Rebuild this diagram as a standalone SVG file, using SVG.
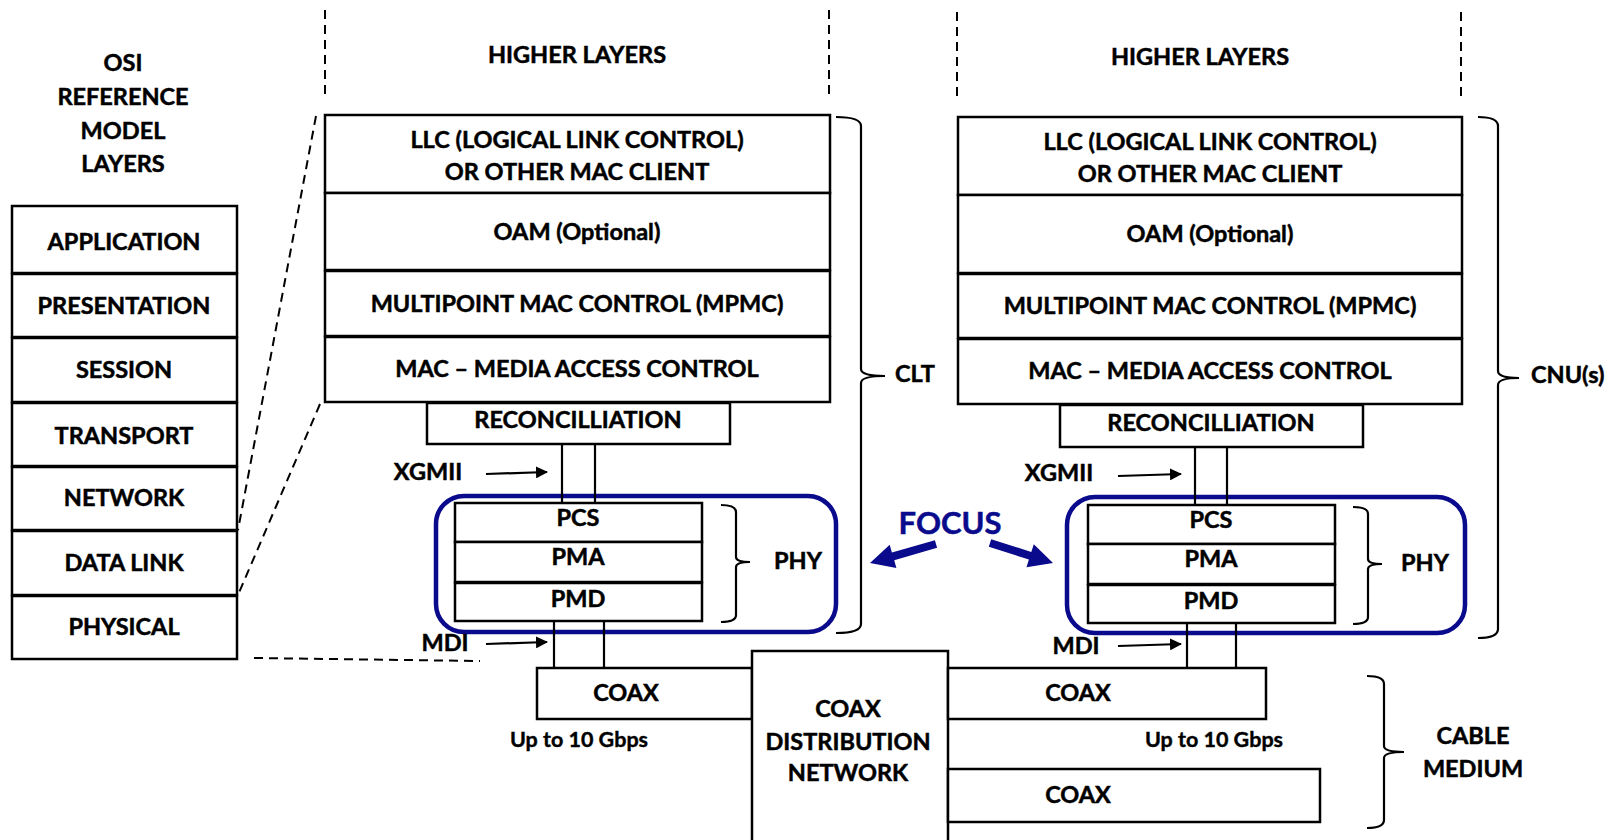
<svg xmlns="http://www.w3.org/2000/svg" width="1620" height="840" viewBox="0 0 1620 840">
  <defs>
    <style>
      .bx { fill: #ffffff; stroke: #000000; stroke-width: 2.5; }
      .ln { fill: none; stroke: #000000; stroke-width: 2.2; }
      .dash { fill: none; stroke: #000000; stroke-width: 2; stroke-dasharray: 9 6; }
      .brace { fill: none; stroke: #000000; stroke-width: 2.2; }
      .focus { fill: none; stroke: #0a0a8c; stroke-width: 4.5; }
      .t { font-family: "Lato", "Open Sans", "Liberation Sans", sans-serif; font-weight: bold; font-size: 23.5px; fill: #000000; stroke: #000000; stroke-width: 0.5; text-anchor: middle; }
      .sm { font-size: 21.5px; stroke-width: 0.4; }
      .blue { fill: #0a0a8c; stroke: #0a0a8c; font-size: 31px; }
      .lbl { text-anchor: start; }
    </style>
    <marker id="ah" viewBox="0 0 12 12" refX="11" refY="6" markerWidth="12" markerHeight="12" markerUnits="userSpaceOnUse" orient="auto">
      <path d="M0,0 L12,6 L0,12 Z" fill="#000000"/>
    </marker>
  </defs>

  <!-- OSI reference model column -->
  <g id="osi-title">
    <text class="t" x="123" y="71">OSI</text>
    <text class="t" x="123" y="105">REFERENCE</text>
    <text class="t" x="123" y="139">MODEL</text>
    <text class="t" x="123" y="172">LAYERS</text>
  </g>
  <g id="osi-application"><rect class="bx" x="12" y="206" width="225" height="67"/><text class="t" x="124" y="250">APPLICATION</text></g>
  <g id="osi-presentation"><rect class="bx" x="12" y="274" width="225" height="63"/><text class="t" x="124" y="314">PRESENTATION</text></g>
  <g id="osi-session"><rect class="bx" x="12" y="338" width="225" height="64"/><text class="t" x="124" y="378">SESSION</text></g>
  <g id="osi-transport"><rect class="bx" x="12" y="403" width="225" height="63"/><text class="t" x="124" y="444">TRANSPORT</text></g>
  <g id="osi-network"><rect class="bx" x="12" y="467" width="225" height="63"/><text class="t" x="124" y="506">NETWORK</text></g>
  <g id="osi-datalink"><rect class="bx" x="12" y="531" width="225" height="64"/><text class="t" x="124" y="571">DATA LINK</text></g>
  <g id="osi-physical"><rect class="bx" x="12" y="596" width="225" height="63"/><text class="t" x="124" y="635">PHYSICAL</text></g>

  <!-- CLT stack -->
  <g id="clt-higher">
    <line class="dash" x1="325" y1="10" x2="325" y2="96"/>
    <line class="dash" x1="829" y1="10" x2="829" y2="96"/>
    <text class="t" x="577" y="63">HIGHER LAYERS</text>
  </g>
  <g id="clt-llc"><rect class="bx" x="325" y="115" width="505" height="78"/><text class="t" x="577" y="148">LLC (LOGICAL LINK CONTROL)</text><text class="t" x="577" y="180">OR OTHER MAC CLIENT</text></g>
  <g id="clt-oam"><rect class="bx" x="325" y="193" width="505" height="77"/><text class="t" x="577" y="240">OAM (Optional)</text></g>
  <g id="clt-mpmc"><rect class="bx" x="325" y="271" width="505" height="65"/><text class="t" x="577" y="312">MULTIPOINT MAC CONTROL (MPMC)</text></g>
  <g id="clt-mac"><rect class="bx" x="325" y="337" width="505" height="65"/><text class="t" x="577" y="377">MAC – MEDIA ACCESS CONTROL</text></g>
  <g id="clt-recon"><rect class="bx" x="427" y="403" width="303" height="41"/><text class="t" x="578" y="428">RECONCILLIATION</text></g>
  <g id="clt-phy">
    <rect class="focus" x="436" y="496" width="400" height="136" rx="28" ry="28"/>
    <rect class="bx" x="455" y="503" width="247" height="39"/><text class="t" x="578" y="526">PCS</text>
    <rect class="bx" x="455" y="542" width="247" height="40"/><text class="t" x="578" y="565">PMA</text>
    <rect class="bx" x="455" y="583" width="247" height="38"/><text class="t" x="578" y="607">PMD</text>
    <path class="brace" d="M721,505 Q736,505 736,512 V557 Q736,562 750,562 Q736,562 736,567 V615 Q736,622 721,622"/>
    <text class="t" x="798" y="569">PHY</text>
  </g>
  <g id="clt-label">
    <path class="brace" d="M836,117 Q861,117 861,126 V369 Q861,376 885,376 Q861,376 861,383 V624 Q861,633 836,633"/>
    <text class="t lbl" x="895" y="382">CLT</text>
  </g>

  <!-- CNU stack -->
  <g id="cnu-higher">
    <line class="dash" x1="957" y1="12" x2="957" y2="98"/>
    <line class="dash" x1="1461" y1="12" x2="1461" y2="98"/>
    <text class="t" x="1200" y="65">HIGHER LAYERS</text>
  </g>
  <g id="cnu-llc"><rect class="bx" x="958" y="117" width="504" height="78"/><text class="t" x="1210" y="150">LLC (LOGICAL LINK CONTROL)</text><text class="t" x="1210" y="182">OR OTHER MAC CLIENT</text></g>
  <g id="cnu-oam"><rect class="bx" x="958" y="195" width="504" height="78"/><text class="t" x="1210" y="242">OAM (Optional)</text></g>
  <g id="cnu-mpmc"><rect class="bx" x="958" y="274" width="504" height="64"/><text class="t" x="1210" y="314">MULTIPOINT MAC CONTROL (MPMC)</text></g>
  <g id="cnu-mac"><rect class="bx" x="958" y="339" width="504" height="65"/><text class="t" x="1210" y="379">MAC – MEDIA ACCESS CONTROL</text></g>
  <g id="cnu-recon"><rect class="bx" x="1060" y="405" width="303" height="42"/><text class="t" x="1211" y="431">RECONCILLIATION</text></g>
  <g id="cnu-phy">
    <rect class="focus" x="1067" y="497" width="398" height="136" rx="28" ry="28"/>
    <rect class="bx" x="1088" y="505" width="247" height="39"/><text class="t" x="1211" y="528">PCS</text>
    <rect class="bx" x="1088" y="544" width="247" height="40"/><text class="t" x="1211" y="567">PMA</text>
    <rect class="bx" x="1088" y="585" width="247" height="38"/><text class="t" x="1211" y="609">PMD</text>
    <path class="brace" d="M1353,507 Q1368,507 1368,514 V559 Q1368,564 1382,564 Q1368,564 1368,569 V617 Q1368,624 1353,624"/>
    <text class="t" x="1425" y="571">PHY</text>
  </g>
  <g id="cnu-label">
    <path class="brace" d="M1478,117 Q1498,117 1498,126 V371 Q1498,378 1519,378 Q1498,378 1498,385 V629 Q1498,638 1478,638"/>
    <text class="t lbl" x="1531" y="383">CNU(s)</text>
  </g>

  <!-- Cable plant -->
  <g id="coax-clt"><rect class="bx" x="537" y="668" width="215" height="51"/><text class="t" x="626" y="701">COAX</text></g>
  <g id="coax-network"><rect class="bx" x="752" y="651" width="196" height="200"/><text class="t" x="848" y="717">COAX</text><text class="t" x="848" y="750">DISTRIBUTION</text><text class="t" x="848" y="781">NETWORK</text></g>
  <g id="coax-cnu1"><rect class="bx" x="948" y="668" width="318" height="51"/><text class="t" x="1078" y="701">COAX</text></g>
  <g id="coax-cnu2"><rect class="bx" x="948" y="769" width="372" height="53"/><text class="t" x="1078" y="803">COAX</text></g>
  <g id="rate-clt"><text class="t sm" x="579" y="747">Up to 10 Gbps</text></g>
  <g id="rate-cnu"><text class="t sm" x="1214" y="747">Up to 10 Gbps</text></g>
  <g id="cable-medium">
    <path class="brace" d="M1367,676 Q1384,676 1384,684 V746 Q1384,752 1404,752 Q1384,752 1384,758 V820 Q1384,828 1367,828"/>
    <text class="t" x="1473" y="744">CABLE</text>
    <text class="t" x="1473" y="777">MEDIUM</text>
  </g>

  <!-- Interface labels and focus callout -->
  <g id="xgmii-clt"><text class="t" x="428" y="480">XGMII</text></g>
  <g id="mdi-clt"><text class="t" x="445" y="651">MDI</text></g>
  <g id="xgmii-cnu"><text class="t" x="1059" y="481">XGMII</text></g>
  <g id="mdi-cnu"><text class="t" x="1076" y="654">MDI</text></g>
  <g id="focus">
    <text class="t blue" x="950" y="534">FOCUS</text>
    <polygon fill="#0a0a8c" points="937.1,547.8 894.2,560.2 896.4,567.9 870,563 889.7,544.8 891.9,552.5 934.9,540.2"/>
    <polygon fill="#0a0a8c" points="988.8,546.8 1028.9,559.5 1026.5,567.2 1053,563 1033.8,544.3 1031.3,551.9 991.2,539.2"/>
  </g>

  <!-- Connectors -->
  <g id="connectors">
    <!-- OSI to stack projection -->
    <line class="dash" x1="316" y1="116" x2="238" y2="530"/>
    <line class="dash" x1="320" y1="404" x2="238" y2="595"/>
    <line class="dash" x1="254" y1="658" x2="480" y2="661"/>
    <!-- CLT interfaces -->
    <line class="ln" x1="562" y1="444" x2="562" y2="503"/>
    <line class="ln" x1="595" y1="444" x2="595" y2="503"/>
    <line class="ln" x1="554" y1="621" x2="554" y2="668"/>
    <line class="ln" x1="604" y1="621" x2="604" y2="668"/>
    <line class="ln" x1="486" y1="474" x2="547" y2="472" marker-end="url(#ah)"/>
    <line class="ln" x1="486" y1="644" x2="547" y2="642" marker-end="url(#ah)"/>
    <!-- CNU interfaces -->
    <line class="ln" x1="1195" y1="447" x2="1195" y2="505"/>
    <line class="ln" x1="1227" y1="447" x2="1227" y2="505"/>
    <line class="ln" x1="1187" y1="623" x2="1187" y2="668"/>
    <line class="ln" x1="1236" y1="623" x2="1236" y2="668"/>
    <line class="ln" x1="1118" y1="476" x2="1181" y2="474" marker-end="url(#ah)"/>
    <line class="ln" x1="1118" y1="646" x2="1181" y2="644" marker-end="url(#ah)"/>
  </g>
</svg>
